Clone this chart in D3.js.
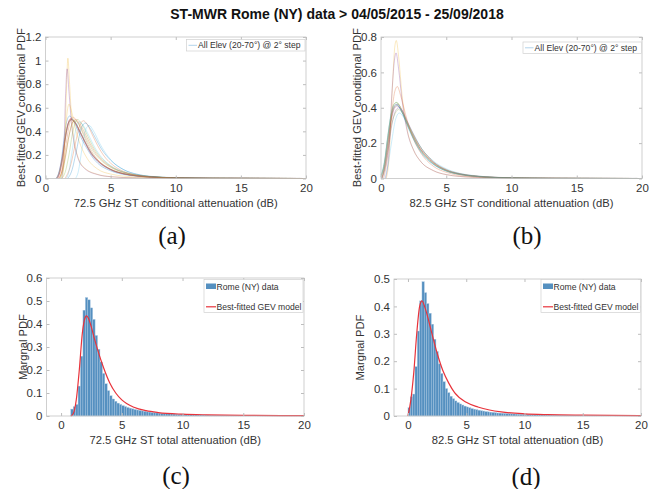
<!DOCTYPE html>
<html>
<head>
<meta charset="utf-8">
<script src="https://cdn.jsdelivr.net/npm/d3@7"></script>
<style>
  body { margin: 0; background: #fff; }
  svg text { font-family: "Liberation Sans", Arial, Helvetica, sans-serif; fill: #262626; }
  .serif { font-family: "Liberation Serif", "Times New Roman", serif !important; fill: #111 !important; }
</style>
</head>
<body>
<svg id="fig" width="662" height="489"></svg>
<script>
// ---- Data -------------------------------------------------------------
const figTitle = "ST-MWR Rome (NY) data > 04/05/2015 - 25/09/2018";
const panelTags = ["(a)", "(b)", "(c)", "(d)"];
const xTicks = [0, 5, 10, 15, 20];
const yTicksA = [0, 0.2, 0.4, 0.6, 0.8, 1, 1.2];
const yTicksB = [0, 0.2, 0.4, 0.6, 0.8];
const yTicksC = [0, 0.1, 0.2, 0.3, 0.4, 0.5, 0.6];
const yTicksD = [0, 0.1, 0.2, 0.3, 0.4, 0.5];
const xLabels = [
  "72.5 GHz ST conditional attenuation (dB)",
  "82.5 GHz ST conditional attenuation (dB)",
  "72.5 GHz ST total attenuation (dB)",
  "82.5 GHz ST total attenuation (dB)"
];
const yLabels = ["Best-fitted GEV conditional PDF", "Best-fitted GEV conditional PDF", "Margnal PDF", "Margnal PDF"];
const elevLegend = "All Elev (20-70°) @ 2° step";
const histLegend = ["Rome (NY) data", "Best-fitted GEV model"];

// 72.5 GHz conditional GEV PDFs, one curve per elevation angle: [dB, pdf]
const curves725 = [
  [[0.8,0],[1.0,0.04],[1.2,0.14],[1.4,0.32],[1.6,0.47],[1.85,0.53],[2.1,0.5],[2.4,0.43],[2.8,0.33],[3.2,0.25],[3.6,0.18],[4,0.13],[5,0.065],[6,0.034],[7,0.019],[8,0.011],[10,0.004],[13,0.0012],[20,0]],
  [[1.0,0],[1.2,0.04],[1.4,0.14],[1.6,0.3],[1.8,0.44],[2.1,0.52],[2.4,0.49],[2.8,0.4],[3.2,0.3],[3.6,0.22],[4,0.16],[5,0.08],[6,0.042],[7,0.024],[8,0.014],[10,0.005],[13,0.0015],[20,0]],
  [[1.3,0],[1.45,0.2],[1.6,0.72],[1.72,1.02],[1.84,0.82],[2.0,0.52],[2.2,0.32],[2.5,0.18],[3,0.09],[4,0.035],[5,0.016],[7,0.005],[10,0.001],[20,0]],
  [[1.25,0],[1.4,0.22],[1.54,0.7],[1.66,0.93],[1.8,0.74],[2.0,0.46],[2.2,0.3],[2.5,0.17],[3,0.085],[4,0.033],[5,0.015],[7,0.005],[10,0.001],[20,0]],
  [[1.2,0],[1.5,0.05],[1.8,0.2],[2.1,0.4],[2.45,0.5],[2.8,0.46],[3.2,0.37],[3.6,0.28],[4,0.21],[4.5,0.15],[5,0.105],[6,0.055],[7,0.03],[8,0.017],[10,0.006],[13,0.002],[20,0]],
  [[2.3,0],[2.5,0.05],[2.8,0.25],[3.1,0.42],[3.35,0.45],[3.7,0.4],[4.2,0.29],[5,0.16],[6,0.075],[7,0.035],[8,0.018],[10,0.006],[13,0.002],[20,0]],
  [[0.9,0],[1.1,0.05],[1.3,0.16],[1.5,0.32],[1.7,0.45],[1.95,0.51],[2.2,0.49],[2.6,0.41],[3,0.32],[3.5,0.22],[4,0.155],[5,0.078],[6,0.041],[7,0.023],[8,0.013],[10,0.005],[13,0.0015],[20,0]],
  [[0.85,0],[1.05,0.05],[1.3,0.18],[1.5,0.33],[1.75,0.46],[2.0,0.5],[2.3,0.47],[2.7,0.39],[3.1,0.3],[3.5,0.22],[4,0.15],[5,0.076],[6,0.04],[7,0.022],[8,0.013],[10,0.005],[13,0.0015],[20,0]],
  [[1.5,0],[1.9,0.1],[2.3,0.3],[2.6,0.44],[2.9,0.49],[3.2,0.46],[3.6,0.37],[4,0.28],[4.5,0.19],[5,0.13],[6,0.06],[7,0.03],[8,0.017],[10,0.006],[13,0.002],[20,0]],
  [[1.1,0],[1.3,0.1],[1.5,0.35],[1.65,0.55],[1.8,0.63],[2.0,0.57],[2.3,0.42],[2.7,0.28],[3.2,0.17],[4,0.08],[5,0.038],[7,0.012],[10,0.003],[20,0]],
  [[0.8,0],[1.0,0.04],[1.25,0.17],[1.5,0.35],[1.75,0.47],[2.0,0.5],[2.3,0.47],[2.7,0.38],[3.1,0.29],[3.5,0.21],[4,0.145],[5,0.073],[6,0.038],[7,0.021],[8,0.012],[10,0.0045],[13,0.0014],[20,0]],
  [[1.1,0],[1.3,0.05],[1.5,0.16],[1.75,0.33],[2.0,0.45],[2.2,0.49],[2.5,0.47],[2.9,0.39],[3.3,0.3],[3.8,0.21],[4.3,0.15],[5,0.095],[6,0.05],[7,0.027],[8,0.016],[10,0.006],[13,0.0018],[20,0]],
  [[1.6,0],[1.8,0.06],[2.0,0.2],[2.3,0.4],[2.6,0.48],[2.9,0.45],[3.3,0.37],[3.8,0.26],[4.3,0.18],[5,0.11],[6,0.055],[7,0.028],[8,0.016],[10,0.006],[13,0.002],[20,0]],
  [[0.9,0],[1.1,0.05],[1.3,0.17],[1.55,0.36],[1.75,0.47],[1.9,0.5],[2.2,0.48],[2.6,0.4],[3,0.31],[3.5,0.21],[4,0.15],[5,0.075],[6,0.04],[7,0.022],[8,0.013],[10,0.005],[13,0.0015],[20,0]],
  [[1.7,0],[2.0,0.06],[2.4,0.25],[2.7,0.41],[3.05,0.47],[3.4,0.43],[3.8,0.35],[4.3,0.25],[5,0.155],[6,0.075],[7,0.037],[8,0.019],[10,0.007],[13,0.002],[20,0]],
  [[1.0,0],[1.2,0.04],[1.5,0.17],[1.8,0.36],[2.05,0.47],[2.3,0.5],[2.6,0.47],[3,0.39],[3.4,0.3],[3.9,0.21],[4.5,0.14],[5,0.1],[6,0.052],[7,0.028],[8,0.016],[10,0.006],[13,0.0018],[20,0]],
  [[0.85,0],[1.05,0.05],[1.3,0.18],[1.55,0.36],[1.75,0.46],[1.95,0.5],[2.25,0.48],[2.6,0.41],[3,0.32],[3.5,0.22],[4,0.155],[5,0.077],[6,0.04],[7,0.022],[8,0.013],[10,0.005],[13,0.0015],[20,0]]
];

// 82.5 GHz conditional GEV PDFs, one curve per elevation angle: [dB, pdf]
const curves825 = [
  [[0,0.01],[0.25,0.07],[0.5,0.2],[0.75,0.33],[1.0,0.4],[1.25,0.415],[1.5,0.39],[2.0,0.31],[2.5,0.23],[3.0,0.165],[3.5,0.12],[4,0.085],[5,0.044],[6,0.024],[7,0.014],[8,0.008],[10,0.003],[13,0.001],[20,0]],
  [[0.05,0],[0.3,0.08],[0.55,0.22],[0.8,0.35],[1.05,0.41],[1.3,0.42],[1.6,0.39],[2.0,0.32],[2.5,0.24],[3.0,0.17],[3.5,0.125],[4,0.09],[5,0.046],[6,0.025],[7,0.015],[8,0.009],[10,0.0035],[13,0.001],[20,0]],
  [[0.4,0],[0.6,0.1],[0.85,0.48],[1.05,0.74],[1.17,0.78],[1.35,0.69],[1.6,0.48],[2.0,0.28],[2.5,0.16],[3,0.1],[4,0.045],[5,0.022],[7,0.007],[10,0.002],[20,0]],
  [[0.35,0],[0.6,0.14],[0.85,0.5],[1.05,0.68],[1.15,0.71],[1.35,0.62],[1.6,0.45],[2,0.27],[2.5,0.16],[3,0.1],[4,0.045],[5,0.022],[7,0.007],[10,0.002],[20,0]],
  [[0,0.015],[0.25,0.08],[0.5,0.22],[0.75,0.35],[1.0,0.42],[1.2,0.43],[1.5,0.4],[2.0,0.31],[2.5,0.225],[3.0,0.16],[3.5,0.115],[4,0.083],[5,0.043],[6,0.024],[7,0.014],[8,0.008],[10,0.003],[13,0.001],[20,0]],
  [[0.3,0],[0.55,0.08],[0.8,0.2],[1.1,0.33],[1.4,0.37],[1.7,0.35],[2.2,0.29],[2.7,0.22],[3.2,0.16],[4,0.1],[5,0.055],[6,0.03],[7,0.018],[8,0.01],[10,0.004],[13,0.0013],[20,0]],
  [[0.05,0],[0.3,0.07],[0.55,0.2],[0.8,0.33],[1.05,0.4],[1.25,0.41],[1.55,0.39],[2.0,0.31],[2.5,0.235],[3.0,0.17],[3.5,0.125],[4,0.09],[5,0.047],[6,0.026],[7,0.015],[8,0.009],[10,0.0035],[13,0.0011],[20,0]],
  [[0,0.02],[0.25,0.09],[0.5,0.23],[0.75,0.35],[1.0,0.41],[1.2,0.42],[1.5,0.39],[2.0,0.3],[2.5,0.22],[3.0,0.155],[3.5,0.11],[4,0.08],[5,0.042],[6,0.023],[7,0.013],[8,0.008],[10,0.003],[13,0.001],[20,0]],
  [[0.2,0],[0.5,0.12],[0.8,0.35],[1.05,0.49],[1.25,0.52],[1.5,0.47],[2,0.33],[2.5,0.22],[3,0.15],[4,0.07],[5,0.035],[7,0.01],[10,0.003],[20,0]],
  [[0,0.01],[0.25,0.08],[0.5,0.22],[0.75,0.35],[1.0,0.42],[1.2,0.43],[1.5,0.4],[2.0,0.31],[2.5,0.23],[3.0,0.165],[3.5,0.12],[4,0.085],[5,0.044],[6,0.024],[7,0.014],[8,0.008],[10,0.003],[13,0.001],[20,0]],
  [[0.1,0],[0.35,0.07],[0.6,0.19],[0.85,0.31],[1.1,0.38],[1.35,0.4],[1.65,0.38],[2.1,0.31],[2.6,0.235],[3.1,0.17],[3.6,0.125],[4,0.095],[5,0.05],[6,0.028],[7,0.016],[8,0.01],[10,0.004],[13,0.0012],[20,0]],
  [[0.05,0],[0.3,0.06],[0.55,0.18],[0.8,0.3],[1.1,0.37],[1.35,0.39],[1.65,0.37],[2.1,0.305],[2.6,0.23],[3.1,0.17],[3.6,0.125],[4,0.095],[5,0.05],[6,0.028],[7,0.016],[8,0.01],[10,0.004],[13,0.0012],[20,0]],
  [[0,0.01],[0.25,0.08],[0.5,0.22],[0.75,0.36],[1.0,0.42],[1.2,0.43],[1.5,0.4],[2.0,0.31],[2.5,0.225],[3.0,0.16],[3.5,0.115],[4,0.082],[5,0.043],[6,0.024],[7,0.014],[8,0.008],[10,0.003],[13,0.001],[20,0]]
];

// Empirical marginal PDF of total attenuation, 0.2 dB bins
const binWidth = 0.2;
const hist725Start = 0.8;
const hist725 = [
  0.03,0.04,0.05,0.13,0.26,0.46,0.515,0.505,0.47,0.42,
  0.35,0.29,0.235,0.185,0.14,0.11,0.088,0.074,0.064,0.056,
  0.05,0.045,0.041,0.037,0.034,0.031,0.028,0.026,0.024,0.022,
  0.02,0.018,0.017,0.015,0.014,0.013,0.012,0.011,0.0105,0.01,
  0.0093,0.0087,0.0082,0.0077,0.0072,0.0068,0.0064,0.006,0.0057,0.0054,
  0.0051,0.0048,0.0046,0.0044,0.0042,0.004,0.0038,0.0036,0.0034,0.0033,
  0.0032,0.003,0.0029,0.0028,0.0027,0.0026,0.0025,0.0024,0.0023,0.0022,
  0.0021,0.002,0.002,0.0019,0.0018,0.0018,0.0017,0.0016,0.0016,0.0015,
  0.0015,0.0014,0.0014,0.0013,0.0013,0.0012,0.0012,0.0011,0.0011,0.001,
  0.001,0.001,0.0009,0.0009,0.0009,0.0008
];
const hist825Start = 0.0;
const hist825 = [
  0.03,0.07,0.08,0.18,0.31,0.42,0.49,0.45,0.41,0.375,
  0.335,0.28,0.235,0.19,0.155,0.125,0.1,0.085,0.072,0.063,
  0.055,0.049,0.044,0.04,0.036,0.033,0.03,0.027,0.025,0.023,
  0.021,0.019,0.018,0.016,0.015,0.014,0.013,0.012,0.011,0.0105,
  0.01,0.0094,0.0088,0.0083,0.0078,0.0073,0.0069,0.0065,0.0061,0.0058,
  0.0055,0.0052,0.0049,0.0047,0.0044,0.0042,0.004,0.0038,0.0036,0.0034,
  0.0033,0.0031,0.003,0.0029,0.0028,0.0027,0.0026,0.0025,0.0024,0.0023,
  0.0022,0.0021,0.0021,0.002,0.0019,0.0019,0.0018,0.0017,0.0017,0.0016,
  0.0016,0.0015,0.0015,0.0014,0.0014,0.0013,0.0013,0.0013,0.0012,0.0012,
  0.0011,0.0011,0.0011,0.001,0.001,0.001,0.0009,0.0009,0.0009,0.0008
];

// Best-fitted GEV model of the marginal PDF: [dB, pdf]
const gev725 = [[0.8,0],[1.0,0.01],[1.25,0.07],[1.5,0.2],[1.75,0.36],[2.0,0.43],[2.1,0.435],[2.25,0.425],[2.5,0.385],[2.75,0.335],[3.0,0.29],[3.5,0.21],[4.0,0.145],[4.5,0.1],[5,0.07],[6,0.038],[7,0.023],[8,0.015],[10,0.008],[12,0.005],[15,0.003],[20,0.0015]];
const gev825 = [[0,0],[0.25,0.06],[0.5,0.16],[0.75,0.3],[1.0,0.4],[1.2,0.42],[1.5,0.39],[2.0,0.31],[2.5,0.23],[3.0,0.165],[3.5,0.12],[4,0.085],[5,0.05],[6,0.033],[7,0.022],[8,0.015],[10,0.008],[12,0.005],[15,0.003],[20,0.0015]];

// ---- Drawing ----------------------------------------------------------
const lineColors = ["#0072BD", "#D95319", "#EDB120", "#7E2F8E", "#77AC30", "#4DBEEE", "#A2142F"];
const svg = d3.select("#fig");

svg.append("text")
  .attr("x", 337).attr("y", 18.5)
  .attr("text-anchor", "middle")
  .style("font-size", "14px").style("font-weight", "bold").style("fill", "#111")
  .text(figTitle);

const panels = [
  { x: [0, 20],    xr: [45.5, 306],  y: [0, 1.2], yr: [178.5, 37],  yt: yTicksA, ylx: 21, tag: [172, 244] },
  { x: [0, 20],    xr: [381, 642],   y: [0, 0.8], yr: [178.5, 37],  yt: yTicksB, ylx: 357, tag: [527, 244] },
  { x: [-1.2, 20], xr: [46.5, 304],  y: [0, 0.6], yr: [416, 278],   yt: yTicksC, ylx: 23, tag: [176, 484] },
  { x: [-1.2, 20], xr: [394, 641],   y: [0, 0.5], yr: [416, 279],   yt: yTicksD, ylx: 360, tag: [526, 485] }
];

function frame(p, i) {
  const x = d3.scaleLinear().domain(p.x).range(p.xr);
  const y = d3.scaleLinear().domain(p.y).range(p.yr);
  const g = svg.append("g");
  const plot = g.append("g");
  const axes = g.append("g");
  const fmt = d3.format("~g");
  const tickCol = "#bdbdbd";

  const bottom = axes.append("g").attr("transform", `translate(0,${p.yr[0]})`)
    .call(d3.axisBottom(x).tickValues(xTicks).tickFormat(fmt).tickSizeInner(-3).tickSizeOuter(0).tickPadding(5));
  const left = axes.append("g").attr("transform", `translate(${p.xr[0]},0)`)
    .call(d3.axisLeft(y).tickValues(p.yt).tickFormat(fmt).tickSizeInner(-3).tickSizeOuter(0).tickPadding(4));
  const top = axes.append("g").attr("transform", `translate(0,${p.yr[1]})`)
    .call(d3.axisTop(x).tickValues(xTicks).tickFormat("").tickSizeInner(-3).tickSizeOuter(0));
  const right = axes.append("g").attr("transform", `translate(${p.xr[1]},0)`)
    .call(d3.axisRight(y).tickValues(p.yt).tickFormat("").tickSizeInner(-3).tickSizeOuter(0));
  [bottom, left, top, right].forEach(a => {
    a.select(".domain").remove();
    a.selectAll("line").attr("stroke", tickCol);
    a.selectAll("text").style("font-size", "11.5px").style("fill", "#333").attr("font-family", null);
  });
  axes.append("rect")
    .attr("x", p.xr[0]).attr("y", p.yr[1])
    .attr("width", p.xr[1] - p.xr[0]).attr("height", p.yr[0] - p.yr[1])
    .attr("fill", "none").attr("stroke", "#c4c4c4").attr("stroke-width", 0.8);

  g.append("text")
    .attr("x", (p.xr[0] + p.xr[1]) / 2).attr("y", p.yr[0] + 28)
    .attr("text-anchor", "middle").style("font-size", "11.2px").style("fill", "#333")
    .text(xLabels[i]);
  g.append("text")
    .attr("transform", `translate(${p.ylx},${(p.yr[0] + p.yr[1]) / 2}) rotate(-90)`)
    .attr("text-anchor", "middle").attr("dy", "0.35em")
    .style("font-size", "11.2px").style("fill", "#333")
    .text(yLabels[i]);
  g.append("text").attr("class", "serif")
    .attr("x", p.tag[0]).attr("y", p.tag[1])
    .attr("text-anchor", "middle").style("font-size", "25px")
    .text(panelTags[i]);
  return { x, y, plot, g };
}

function drawCurves(fr, curves) {
  const line = d3.line().x(d => fr.x(d[0])).y(d => fr.y(d[1])).curve(d3.curveMonotoneX);
  fr.plot.selectAll("path.c").data(curves).join("path")
    .attr("class", "c")
    .attr("d", line)
    .attr("fill", "none")
    .attr("stroke", (d, k) => lineColors[k % lineColors.length])
    .attr("stroke-opacity", 0.28)
    .attr("stroke-width", 1);
}

function elevLegendBox(fr, bx, by, bw) {
  const lg = fr.g.append("g");
  lg.append("rect").attr("x", bx).attr("y", by).attr("width", bw).attr("height", 11.5)
    .attr("fill", "#fff").attr("stroke", "#d0d0d0").attr("stroke-width", 0.7);
  lg.append("line").attr("x1", bx + 2).attr("x2", bx + 10.5)
    .attr("y1", by + 5.8).attr("y2", by + 5.8)
    .attr("stroke", lineColors[0]).attr("stroke-opacity", 0.3).attr("stroke-width", 1);
  lg.append("text").attr("x", bx + 11.5).attr("y", by + 5.8).attr("dy", "0.35em")
    .style("font-size", "8.6px").style("fill", "#333").text(elevLegend);
}

function drawHist(fr, start, vals, gev) {
  const bins = vals.map((v, k) => ({ x0: start + k * binWidth, x1: start + (k + 1) * binWidth, v }));
  fr.plot.selectAll("rect.bar").data(bins).join("rect")
    .attr("class", "bar")
    .attr("x", d => fr.x(d.x0))
    .attr("width", d => fr.x(d.x1) - fr.x(d.x0))
    .attr("y", d => fr.y(d.v))
    .attr("height", d => fr.y(0) - fr.y(d.v))
    .attr("fill", "#5590c0")
    .attr("stroke", "#a8c6e0").attr("stroke-width", 0.4);
  const line = d3.line().x(d => fr.x(d[0])).y(d => fr.y(d[1])).curve(d3.curveMonotoneX);
  fr.plot.append("path").datum(gev).attr("d", line)
    .attr("fill", "none").attr("stroke", "#e8333b").attr("stroke-width", 1.2);
}

function histLegendBox(fr, bx, by, bw) {
  const lg = fr.g.append("g");
  lg.append("rect").attr("x", bx).attr("y", by).attr("width", bw).attr("height", 33)
    .attr("fill", "#fff").attr("stroke", "#d0d0d0").attr("stroke-width", 0.7);
  lg.append("rect").attr("x", bx + 2).attr("y", by + 4).attr("width", 10).attr("height", 5.5)
    .attr("fill", "#5590c0");
  lg.append("line").attr("x1", bx + 2).attr("x2", bx + 12)
    .attr("y1", by + 27.3).attr("y2", by + 27.3)
    .attr("stroke", "#e8333b").attr("stroke-width", 1.2);
  lg.append("text").attr("x", bx + 12.5).attr("y", by + 7).attr("dy", "0.35em")
    .style("font-size", "8.6px").style("fill", "#333").text(histLegend[0]);
  lg.append("text").attr("x", bx + 12.5).attr("y", by + 27.3).attr("dy", "0.35em")
    .style("font-size", "8.6px").style("fill", "#333").text(histLegend[1]);
}

const fa = frame(panels[0], 0);
drawCurves(fa, curves725);
elevLegendBox(fa, 186.5, 39.5, 118.5);

const fb = frame(panels[1], 1);
drawCurves(fb, curves825);
elevLegendBox(fb, 523, 42, 118.5);

const fc = frame(panels[2], 2);
drawHist(fc, hist725Start, hist725, gev725);
histLegendBox(fc, 204, 279.5, 99);

const fd = frame(panels[3], 3);
drawHist(fd, hist825Start, hist825, gev825);
histLegendBox(fd, 541, 279.5, 99.5);
</script>
</body>
</html>
